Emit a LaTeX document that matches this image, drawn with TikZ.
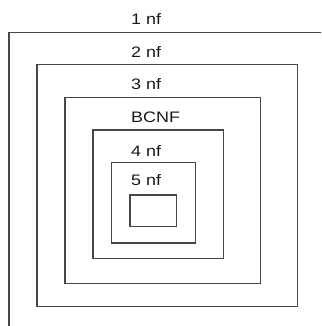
\documentclass[tikz,border=0pt]{standalone}
\usepackage{fontspec}
\setmainfont{Liberation Sans}
\begin{document}
\begin{tikzpicture}[x=1pt,y=-1pt,
  level/.style={draw=black!72,line width=1.3pt},
  tag/.style={anchor=west,inner sep=0pt,font=\fontsize{15.2}{18}\selectfont,xscale=1.18,text=black!90}]
\useasboundingbox (0,0) rectangle (321,326);
\begin{scope}
\clip (0,0) rectangle (321,326);
% outermost level runs past the right and bottom edges
\draw[level] (330,32.5) -- (9,32.5) -- (9,335);
\end{scope}
\draw[level] (37,64.7) rectangle (297.5,306.7);
\draw[level] (65,97.3) rectangle (260.3,283.3);
\draw[level] (93,130) rectangle (223.5,258.7);
\draw[level] (111.7,162.3) rectangle (195.5,243);
\draw[level] (130,195) rectangle (176.5,226.5);
\node[tag] (nf1) at (131,19.4) {1 nf};
\node[tag] (nf2) at (131,52) {2 nf};
\node[tag] (nf3) at (131,83.8) {3 nf};
\node[tag] (bcnf) at (131,117.2) {BCNF};
\node[tag] (nf4) at (131,150.5) {4 nf};
\node[tag] (nf5) at (131,180.5) {5 nf};
\end{tikzpicture}
\end{document}
